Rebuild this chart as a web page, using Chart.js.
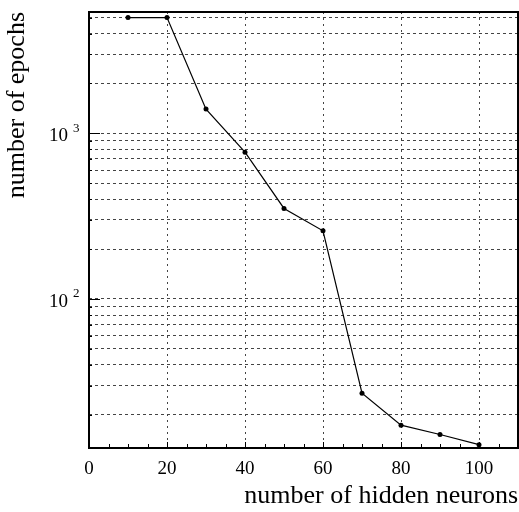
<!DOCTYPE html>
<html>
<head>
<meta charset="utf-8">
<script src="https://cdn.jsdelivr.net/npm/chart.js@4.4.1/dist/chart.umd.min.js"></script>
<style>
  html, body { margin: 0; padding: 0; background: #fff; }
  #wrap { width: 519px; height: 512px; }
</style>
</head>
<body>
<div id="wrap"><canvas id="chart" width="519" height="512"></canvas></div>
<script>
const hiddenNeurons = [10, 20, 30, 40, 50, 60, 70, 80, 90, 100];
const epochs = [5000, 5000, 1400, 770, 352, 258, 27, 17.3, 15.2, 13.2];

const xTickLabels = [0, 20, 40, 60, 80, 100];
const yGridValues = [20, 30, 40, 50, 60, 70, 80, 90, 100, 200, 300, 400, 500, 600, 700, 800, 900, 1000, 2000, 3000, 4000, 5000];
const yTickBases = ['10', '10'];
const yTickExps = ['2', '3'];
const yTickValues = [100, 1000];

const serif = "'Liberation Serif', 'DejaVu Serif', serif";

// frame, inward ticks and 10^n labels
const axisDecor = {
    id: 'axisDecor',
    afterDraw(chart) {
        const ctx = chart.ctx;
        const area = chart.chartArea;
        const x = chart.scales.x;
        const y = chart.scales.y;
        ctx.save();
        ctx.strokeStyle = '#000';

        ctx.lineWidth = 1;
        for (let v = 5; v < 110; v += 5) {
            const px = Math.round(x.getPixelForValue(v)) + 0.5;
            const len = v % 20 === 0 ? 6 : 4;
            ctx.beginPath();
            ctx.moveTo(px, area.bottom);
            ctx.lineTo(px, area.bottom - len);
            ctx.stroke();
        }
        yGridValues.forEach(v => {
            const py = Math.round(y.getPixelForValue(v)) + 0.5;
            const len = yTickValues.includes(v) ? 11 : 3;
            ctx.beginPath();
            ctx.moveTo(area.left, py);
            ctx.lineTo(area.left + len, py);
            ctx.stroke();
        });

        ctx.lineWidth = 2;
        ctx.strokeRect(area.left, area.top, area.right - area.left, area.bottom - area.top);

        ctx.fillStyle = '#000';
        ctx.textBaseline = 'middle';
        yTickValues.forEach((v, i) => {
            const py = y.getPixelForValue(v);
            ctx.font = '19px ' + serif;
            ctx.textAlign = 'right';
            ctx.fillText(yTickBases[i], area.left - 21, py + 3);
            ctx.font = '13px ' + serif;
            ctx.textAlign = 'left';
            ctx.fillText(yTickExps[i], area.left - 16, py - 5);
        });
        ctx.restore();
    }
};

const ctx = document.getElementById('chart').getContext('2d');
new Chart(ctx, {
    type: 'line',
    data: {
        datasets: [{
            data: hiddenNeurons.map((n, i) => ({x: n, y: epochs[i]})),
            borderColor: '#000',
            backgroundColor: '#000',
            borderWidth: 1.2,
            pointRadius: 2.5,
            pointBorderWidth: 0,
            tension: 0
        }]
    },
    options: {
        responsive: false,
        animation: false,
        layout: {autoPadding: false, padding: {top: 12, right: 1, left: 0, bottom: 0}},
        plugins: {legend: {display: false}, tooltip: {enabled: false}},
        scales: {
            x: {
                type: 'linear',
                min: 0,
                max: 110,
                afterFit: scale => {
                    scale.height = 64;
                    scale.paddingRight = 0;
                },
                afterBuildTicks: scale => {
                    scale.ticks = xTickLabels.map(v => ({value: v}));
                },
                ticks: {
                    color: '#000',
                    font: {family: serif, size: 19},
                    padding: 10,
                    maxRotation: 0,
                    autoSkip: false
                },
                grid: {
                    color: c => (c.tick && c.tick.value > 0 && c.tick.value < 110) ? '#444' : 'rgba(0,0,0,0)',
                    drawTicks: false,
                    lineWidth: 1
                },
                border: {display: false, dash: [2, 4]},
                title: {
                    display: true,
                    text: 'number of hidden neurons',
                    align: 'end',
                    color: '#000',
                    font: {family: serif, size: 26},
                    padding: {top: 4, bottom: 0}
                }
            },
            y: {
                type: 'logarithmic',
                min: 12.6,
                max: 5400,
                afterFit: scale => { scale.width = 89; },
                afterBuildTicks: scale => {
                    scale.ticks = yGridValues.map(v => ({value: v}));
                },
                ticks: {
                    callback: () => '',
                    autoSkip: false
                },
                grid: {
                    color: '#444',
                    drawTicks: false,
                    lineWidth: 1
                },
                border: {display: false, dash: [3, 3]},
                title: {
                    display: true,
                    text: 'number of epochs',
                    align: 'end',
                    color: '#000',
                    font: {family: serif, size: 26},
                    padding: {top: 2, bottom: 0}
                }
            }
        }
    },
    plugins: [axisDecor]
});
</script>
</body>
</html>
